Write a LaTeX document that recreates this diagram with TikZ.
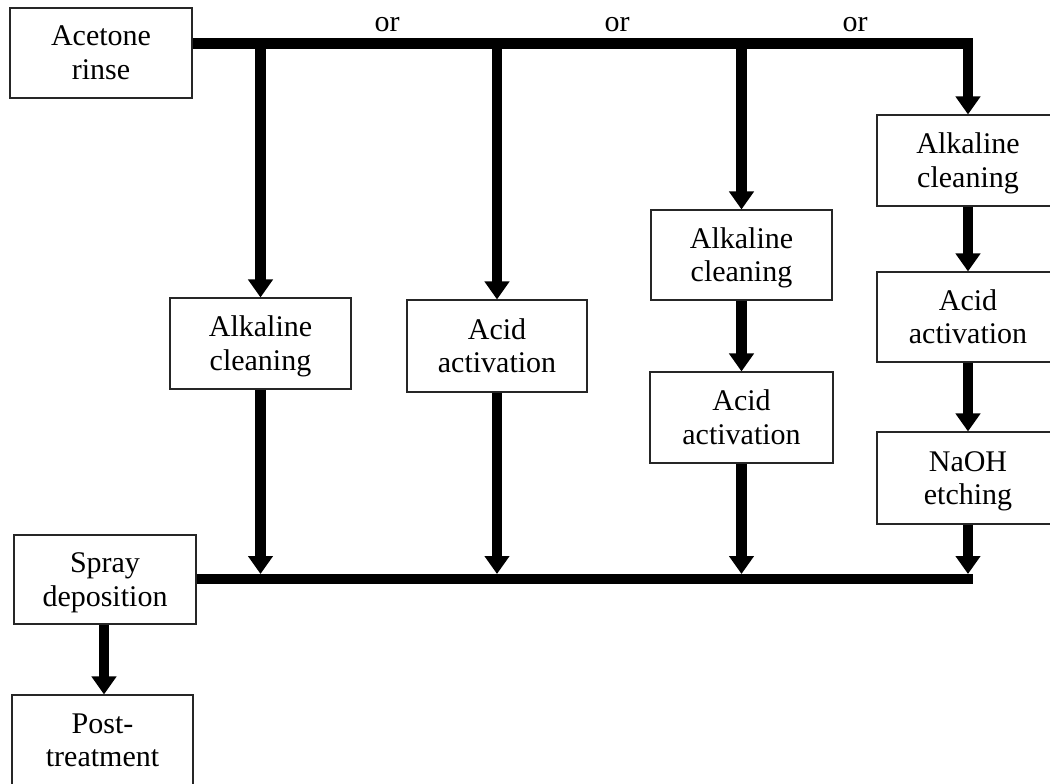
\documentclass[tikz,border=0pt]{standalone}
\usepackage{fontspec}
\setmainfont{Liberation Serif}
\usetikzlibrary{arrows.meta}
\begin{document}
\begin{tikzpicture}[x=1pt,y=-1pt,
  box/.style={draw=black!85,line width=1.1pt,fill=white,align=center,inner sep=0pt,
    text height=60pt,text depth=7pt,font=\fontsize{30}{33.5}\selectfont},
  flow/.style={line width=10.5pt,-{Triangle[width=24pt,length=18pt]}},
  bus/.style={line width=10pt},
  orlab/.style={anchor=base,font=\fontsize{30}{33.5}\selectfont}]
\clip (0,0) rectangle (1050,784);
\useasboundingbox (0,0) rectangle (1050,784);
% boxes
\node[box,minimum width=182pt,minimum height=90pt] (acetone) at (101,53) {Acetone\\rinse};
\node[box,minimum width=181pt,minimum height=91pt] (alk1) at (260.5,343.5) {Alkaline\\cleaning};
\node[box,minimum width=180pt,minimum height=92pt] (acid1) at (497,346) {Acid\\activation};
\node[box,minimum width=181pt,minimum height=90pt] (alk2) at (741.5,255) {Alkaline\\cleaning};
\node[box,minimum width=183pt,minimum height=91pt] (acid2) at (741.5,417.5) {Acid\\activation};
\node[box,minimum width=182pt,minimum height=91pt] (alk3) at (968,160.5) {Alkaline\\cleaning};
\node[box,minimum width=182pt,minimum height=90pt] (acid3) at (968,317) {Acid\\activation};
\node[box,minimum width=182pt,minimum height=92pt] (naoh) at (968,478) {NaOH\\etching};
\node[box,minimum width=182pt,minimum height=89pt] (spray) at (105,579.5) {Spray\\deposition};
\node[box,minimum width=181pt,minimum height=90pt] (post) at (102.5,740) {Post-\\treatment};
% bus levels
\coordinate (ttop) at (0,43.5);
\coordinate (bbus) at (0,579);
\coordinate (btop) at (0,574);
\coordinate (vpost) at (104,0);
% top bus with right branch
\draw[flow,line join=miter] (acetone.east |- ttop) -| (alk3.north);
\draw[flow] (alk1.north |- ttop) -- (alk1.north);
\draw[flow] (acid1.north |- ttop) -- (acid1.north);
\draw[flow] (alk2.north |- ttop) -- (alk2.north);
% right column
\draw[flow] (alk3.south) -- (acid3.north);
\draw[flow] (acid3.south) -- (naoh.north);
\draw[flow] (alk2.south) -- (acid2.north);
% bottom bus
\coordinate (bend) at ([xshift=5pt]naoh.south |- bbus);
\draw[bus] (spray.east |- bbus) -- (bend);
\draw[flow] (alk1.south) -- (alk1.south |- btop);
\draw[flow] (acid1.south) -- (acid1.south |- btop);
\draw[flow] (acid2.south) -- (acid2.south |- btop);
\draw[flow] (naoh.south) -- (naoh.south |- btop);
\draw[flow] (vpost |- spray.south) -- (vpost |- post.north);
% labels
\node[orlab] (or1) at (387,32) {or};
\node[orlab] (or2) at (617,32) {or};
\node[orlab] (or3) at (855,32) {or};
\end{tikzpicture}
\end{document}
